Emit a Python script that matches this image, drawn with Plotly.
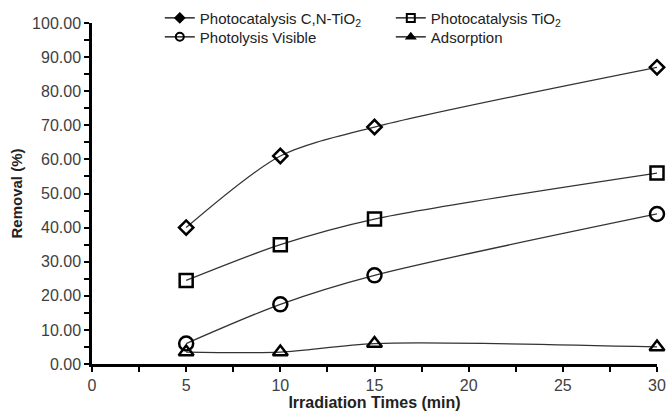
import plotly.graph_objects as go

# Irradiation times (min) and removal (%) for each treatment
times = [5, 10, 15, 30]
cn_tio2 = [40.0, 61.0, 69.5, 87.0]
tio2 = [24.5, 35.0, 42.5, 56.0]
photolysis = [6.0, 17.5, 26.0, 44.0]
adsorption = [3.5, 3.5, 6.0, 5.0]

series_names = [
    "Photocatalysis C,N-TiO<sub>2</sub>",
    "Photocatalysis TiO<sub>2</sub>",
    "Photolysis Visible",
    "Adsorption",
]
series_values = [cn_tio2, tio2, photolysis, adsorption]
plot_symbols = ["diamond-open", "square-open", "circle-open", "triangle-up-open"]
plot_sizes = [11, 13, 14, 13]
legend_symbols = ["diamond", "square-open", "circle-open", "triangle-up"]
legend_sizes = [7, 8, 8, 7]
# two legend rows: first two series on top, last two below
legend_rows = ["legend", "legend", "legend2", "legend2"]

FONT = "Liberation Sans, Arial, sans-serif"

fig = go.Figure()

for name, vals, sym, size in zip(series_names, series_values, plot_symbols, plot_sizes):
    fig.add_trace(go.Scatter(
        x=times, y=vals, mode="lines+markers", showlegend=False,
        line=dict(color="#333333", width=1.3, shape="spline", smoothing=0.8),
        marker=dict(symbol=sym, size=size, color="black", line=dict(color="black", width=2.5)),
        cliponaxis=False,
    ))

# legend entries with their own (smaller) marker styles
for name, sym, size, row in zip(series_names, legend_symbols, legend_sizes, legend_rows):
    fig.add_trace(go.Scatter(
        x=[None], y=[None], mode="lines+markers", name=name, legend=row,
        line=dict(color="black", width=1.3),
        marker=dict(symbol=sym, size=size, color="black", line=dict(color="black", width=2)),
    ))

legend_style = dict(
    orientation="h", xanchor="left", yanchor="middle", yref="container",
    entrywidth=186, entrywidthmode="pixels",
    font=dict(family=FONT, size=15, color="#222222"),
    bgcolor="rgba(0,0,0,0)",
)

fig.update_layout(
    width=667, height=412,
    margin=dict(l=92, r=10, t=23, b=48, autoexpand=False),
    paper_bgcolor="white", plot_bgcolor="white",
    font=dict(family=FONT, size=16, color="#404040"),
    legend=dict(x=0.12, y=0.956, **legend_style),
    legend2=dict(x=0.12, y=0.910, **legend_style),
    xaxis=dict(
        range=[0, 30], tickmode="array", tickvals=[0, 5, 10, 15, 20, 25, 30],
        showgrid=False, zeroline=False, automargin=False,
        showline=True, linecolor="black", linewidth=2.5,
        ticks="outside", ticklen=5, tickwidth=2, tickcolor="black",
        minor=dict(tickvals=[2.5, 7.5, 12.5, 17.5, 22.5, 27.5], ticks="outside",
                   ticklen=5, tickwidth=2, tickcolor="black"),
        tickfont=dict(family=FONT, size=16, color="#404040"),
        title=dict(text="<b>Irradiation Times (min)</b>", standoff=1,
                   font=dict(family=FONT, size=16, color="#222222")),
    ),
    yaxis=dict(
        range=[0, 100], dtick=10, tickformat=".2f",
        showgrid=False, zeroline=False, automargin=False,
        showline=True, linecolor="black", linewidth=2.5,
        ticks="outside", ticklen=5, tickwidth=2, tickcolor="black",
        minor=dict(dtick=5, ticks="outside", ticklen=5, tickwidth=2, tickcolor="black"),
        tickfont=dict(family=FONT, size=16, color="#404040"),
        title=dict(text="<b>Removal (%)</b>", standoff=6,
                   font=dict(family=FONT, size=15, color="#222222")),
    ),
)

fig.write_html("out.html")
